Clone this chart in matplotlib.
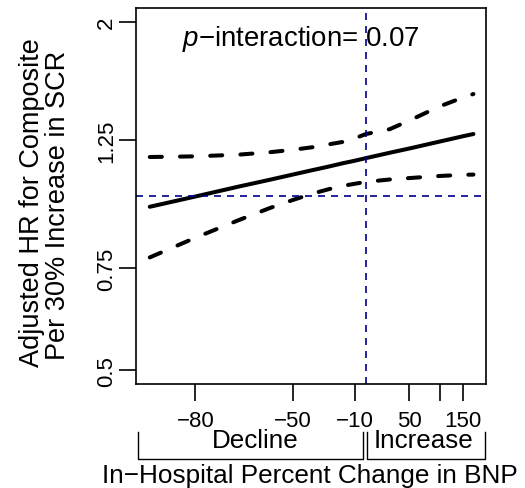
#Import Libray
import numpy as np
import matplotlib
matplotlib.use('Agg')
import matplotlib.pyplot as plt
import matplotlib.transforms as mtrans

plt.rcParams['font.family'] = ['Liberation Sans', 'DejaVu Sans']
plt.rcParams['mathtext.fontset'] = 'custom'
plt.rcParams['mathtext.it'] = 'Liberation Sans:italic'
plt.rcParams['mathtext.rm'] = 'Liberation Sans'

#Percent change in BNP and the estimated HR with its 95% band
pct_change = [-87, -80, -70, -60, -50, -40, -30, -20, -10, 0, 25, 50, 100, 150, 175]
hr = [0.958, 0.998, 1.038, 1.066, 1.089, 1.108, 1.124, 1.139, 1.151, 1.163,
      1.188, 1.208, 1.242, 1.269, 1.280]
hr_upper = [1.168, 1.171, 1.179, 1.190, 1.202, 1.214, 1.228, 1.240, 1.259, 1.280,
            1.305, 1.350, 1.429, 1.481, 1.501]
hr_lower = [0.783, 0.847, 0.908, 0.952, 0.984, 1.009, 1.027, 1.041, 1.050, 1.058,
            1.068, 1.074, 1.083, 1.088, 1.089]

x_ticks = [-80, -50, -10, 50, 100, 150]
x_tick_labels = ['\u221280', '\u221250', '\u221210', '50', '', '150']
y_ticks = [0.5, 0.75, 1.25, 2]
y_tick_labels = ['0.5', '0.75', '1.25', '2']

#log ratio scale for both axes
x = np.log(1 + np.array(pct_change) / 100)

W, H = 525, 489
fig = plt.figure(figsize=(W / 100, H / 100), dpi=100)
ax = fig.add_axes([136 / W, (H - 385) / H, 350 / W, 376 / H])

ax.plot(x, np.log(hr), color='black', lw=2.9, solid_capstyle='round')
ax.plot(x, np.log(hr_upper), color='black', lw=2.9, linestyle=(0, (3, 4.5)), dash_capstyle='round')
ax.plot(x, np.log(hr_lower), color='black', lw=2.9, linestyle=(0, (3, 4.5)), dash_capstyle='round')

ax.axhline(0, color='#00008B', lw=1.2, linestyle=(0, (4.2, 3.6)))
ax.axvline(0, color='#00008B', lw=1.2, linestyle=(0, (4.2, 3.6)))

ax.set_xlim(-2.17, 1.13)
ax.set_ylim(-np.log(2) * 1.08, np.log(2) * 1.08)

ax.set_xticks(np.log(1 + np.array(x_ticks) / 100))
ax.set_xticklabels(x_tick_labels)
ax.set_yticks(np.log(y_ticks))
ax.set_yticklabels(y_tick_labels, rotation=90, va='center')
ax.tick_params(axis='both', length=12, width=1.2, labelsize=16)
ax.tick_params(axis='x', pad=7)
ax.tick_params(axis='y', pad=1.5)

for s in ax.spines.values():
    s.set_linewidth(1.2)

#y label, two lines
fig.text(39 / W, 1 - 203 / H, 'Adjusted HR for Composite', rotation=90, rotation_mode='anchor',
         ha='center', va='baseline', fontsize=19.5)
fig.text(65 / W, 1 - 205 / H, 'Per 30% Increase in SCR', rotation=90, rotation_mode='anchor',
         ha='center', va='baseline', fontsize=19.5)

ax.text(0.4714, 0.9016, '$p$\u2212interaction= 0.07', transform=ax.transAxes,
        ha='center', va='baseline', fontsize=19.9)

#brackets under the x axis
trans = mtrans.blended_transform_factory(ax.transData, ax.transAxes)
for x0, x1 in [(-2.151, -0.028), (0.009, 1.123)]:
    ax.plot([x0, x0, x1, x1], [-0.1277, -0.1995, -0.1995, -0.1277], color='black', lw=1,
            transform=trans, clip_on=False)
ax.text(-1.047, -0.1676, 'Decline', transform=trans, ha='center', va='baseline', fontsize=18.7)
ax.text(0.54, -0.1676, 'Increase', transform=trans, ha='center', va='baseline', fontsize=18.7)
fig.text(310 / W, 1 - 483 / H, 'In\u2212Hospital Percent Change in BNP',
         ha='center', va='baseline', fontsize=18.8)

plt.savefig('out.png', dpi=100)
